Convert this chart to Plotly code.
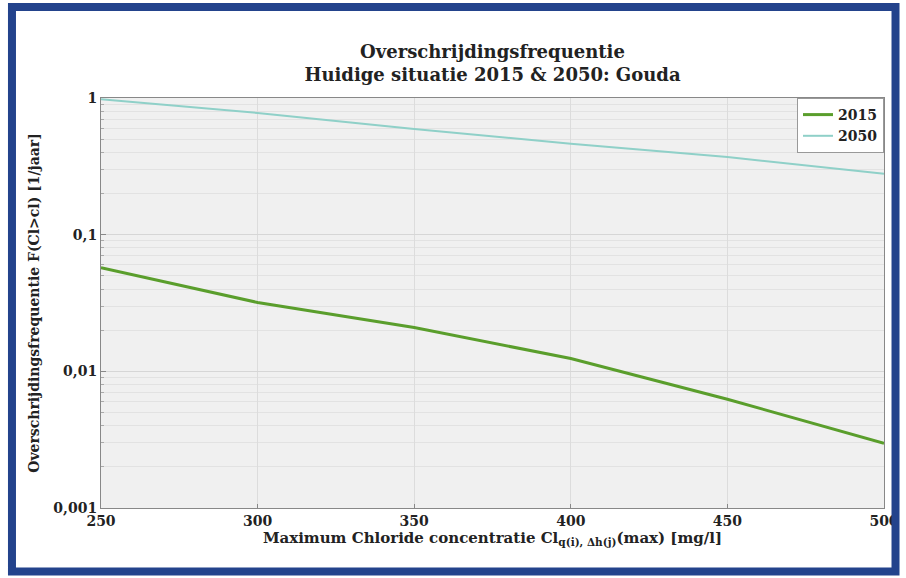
import plotly.graph_objects as go

chloride = [250, 300, 350, 400, 450, 500]
freq_2015 = [0.0574, 0.0319, 0.0209, 0.0124, 0.00625, 0.00298]
freq_2050 = [0.98, 0.777, 0.594, 0.462, 0.37, 0.279]
ytick_vals = [0.001, 0.01, 0.1, 1]
ytick_text = ["0,001", "0,01", "0,1", "1"]
xtick_vals = [250, 300, 350, 400, 450, 500]
minor_vals = [m * 10.0 ** e for e in (-3, -2, -1) for m in range(2, 10)]

FONT = "DejaVu Serif"

fig = go.Figure()
fig.add_trace(go.Scatter(x=chloride, y=freq_2015, mode="lines", name="<b>2015</b>",
                         line=dict(color="#5a9e2c", width=3)))
fig.add_trace(go.Scatter(x=chloride, y=freq_2050, mode="lines", name="<b>2050</b>",
                         line=dict(color="#8fd0c8", width=2)))

fig.update_layout(
    width=906, height=578,
    margin=dict(l=101, r=22, t=98, b=70, autoexpand=False),
    paper_bgcolor="white",
    plot_bgcolor="#f0f0f0",
    font=dict(family=FONT, color="#222222", size=14),
    title=dict(text="<b>Overschrijdingsfrequentie<br>Huidige situatie 2015 &amp; 2050: Gouda</b>",
               x=0.5, xanchor="center", xref="paper", y=0.9, yanchor="middle",
               font=dict(family=FONT, size=18, color="#222222")),
    legend=dict(x=1, xanchor="right", y=1, yanchor="top",
                bgcolor="white", bordercolor="#999999", borderwidth=1,
                font=dict(family=FONT, size=14, color="#222222"),
                itemwidth=30, tracegroupgap=0),
    showlegend=True,
)

fig.update_xaxes(
    range=[250, 500], tickvals=xtick_vals,
    ticktext=[f"<b>{v}</b>" for v in xtick_vals],
    showgrid=True, gridcolor="#dcdcdc", gridwidth=1,
    showline=True, linecolor="#888888", mirror=True,
    ticks="inside", ticklen=4, tickcolor="#888888",
    zeroline=False, automargin=False,
    title=dict(text="<b>Maximum Chloride concentratie Cl<sub>q(i), Δh(j)</sub>(max) [mg/l]</b>",
               standoff=2, font=dict(family=FONT, size=15, color="#222222")),
)
fig.update_yaxes(
    type="log", range=[-3, 0],
    tickvals=ytick_vals, ticktext=[f"<b>{t}</b>" for t in ytick_text],
    showgrid=True, gridcolor="#d6d6d6", gridwidth=1,
    minor=dict(tickmode="array", tickvals=minor_vals, showgrid=True,
               gridcolor="#e2e2e2", ticks="inside", ticklen=3, tickcolor="#aaaaaa"),
    showline=True, linecolor="#888888", mirror=True,
    ticks="inside", ticklen=5, tickcolor="#888888",
    automargin=False,
    title=dict(text="<b>Overschrijdingsfrequentie F(Cl&gt;cl) [1/jaar]</b>",
               standoff=10, font=dict(family=FONT, size=14, color="#222222")),
)

fig.add_shape(type="rect", xref="paper", yref="paper",
              x0=-0.1137, x1=1.0147, y0=-0.1549, y1=1.222,
              line=dict(color="#23438c", width=8), fillcolor="rgba(0,0,0,0)",
              layer="above")

fig.write_html("out.html", config={"displayModeBar": False},
               post_script="document.body.style.margin='0';document.body.style.overflow='hidden';")
